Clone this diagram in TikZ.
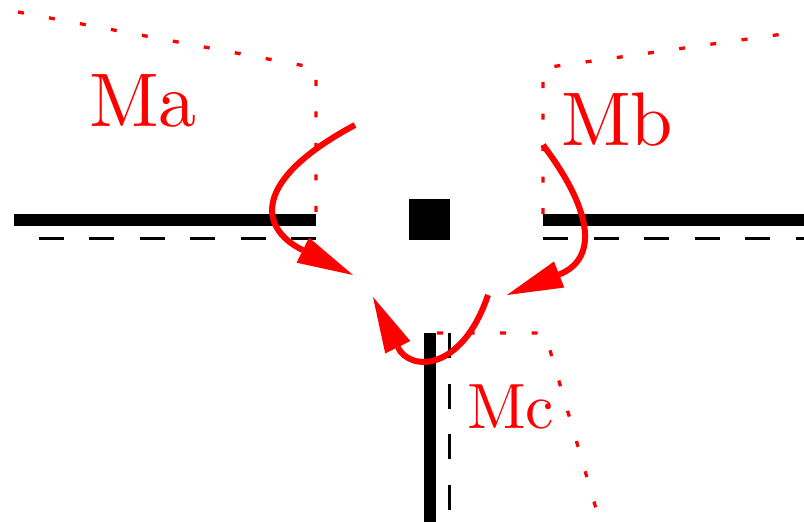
\documentclass[tikz,border=0pt]{standalone}
\usepackage{fontspec}
\IfFontExistsTF{lmroman10-regular.otf}
  {\newfontfamily\labelfont{lmroman10-regular.otf}}
  {\newfontfamily\labelfont{Latin Modern Roman}}
\usetikzlibrary{arrows.meta}
\tikzset{
  wall/.style={line width=12pt, line cap=butt},
  face/.style={line width=3pt, dash pattern=on 25pt off 25.5pt, line cap=butt},
  zone/.style={red, line width=3.3pt, dash pattern=on 6pt off 25.5pt, line cap=butt},
  moment/.style={red, line width=6pt, line cap=butt,
    -{Triangle[length=56pt,width=28pt,line width=0pt]}},
  biglabel/.style={red, inner sep=0pt, anchor=base west, font=\labelfont\fontsize{76}{76}\selectfont},
  smalllabel/.style={red, inner sep=0pt, anchor=base west, font=\labelfont\fontsize{64}{64}\selectfont}
}
\begin{document}
\begin{tikzpicture}[x=1pt, y=-1pt]
\useasboundingbox (0,0) rectangle (804,522);
% dotted zones
\draw[zone] (18,12) -- (316,68) -- (316,214);
\draw[zone] (543,214) -- (543,68) -- (783,34);
\draw[zone] (437,333) -- (545,333) -- (597,512);
% walls
\draw[wall] (14,219.5) -- (316,219.5);
\draw[wall] (543,219.5) -- (804,219.5);
\draw[wall] (429.7,333) -- (429.7,522);
% dashed faces
\draw[face] (316,238) -- (14,238);
\draw[face] (543,238) -- (804,238);
\draw[face] (449,333) -- (449,522);
% node (square)
\fill (409,199) rectangle (450,240);
% labels
\node[biglabel] (ma) at (89,126) {Ma};
\node[biglabel] (mb) at (561,145) {Mb};
\node[smalllabel] (mc) at (467,428) {Mc};
% moment arrows
\draw[moment] (355,125) .. controls (252,180) and (258,228) .. (353,275);
\draw[moment] (543,145) .. controls (596,215) and (596,260) .. (507,295);
\draw[moment] (488,295) .. controls (462,372) and (410,372) .. (373,297);
\end{tikzpicture}
\end{document}
